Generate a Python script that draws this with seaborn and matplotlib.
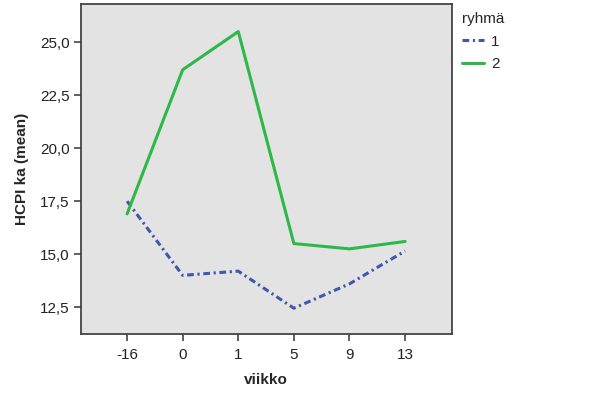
import pandas as pd
import numpy as np
import matplotlib
matplotlib.use("Agg")
import matplotlib.pyplot as plt
import seaborn as sns

# week labels and group means
weeks = ["-16", "0", "1", "5", "9", "13"]
group1 = [17.5, 14.0, 14.2, 12.45, 13.6, 15.15]
group2 = [16.9, 23.7, 25.5, 15.5, 15.25, 15.6]
groups = ["1", "2"]
colors = ["#3e58ac", "#2eb848"]

df = pd.DataFrame({
    "viikko": weeks * 2,
    "HCPI": group1 + group2,
    "ryhmä": [groups[0]] * len(weeks) + [groups[1]] * len(weeks),
})

sns.set_style("white")
plt.rcParams["font.family"] = ["Liberation Sans", "DejaVu Sans"]

fig = plt.figure(figsize=(6.04, 4.03), dpi=100)
ax = fig.add_axes([0.134, 0.171, 0.614, 0.819])
ax.set_facecolor("#e3e3e3")

sns.lineplot(data=df, x="viikko", y="HCPI", hue="ryhmä", style="ryhmä",
             palette=dict(zip(groups, colors)),
             dashes={"1": (2.2, 1.2, 0.7, 1.2), "2": ""},
             linewidth=2.2, ax=ax, sort=False)

ax.set_xlim(-0.83, 5.84)
ax.set_ylim(11.23, 26.8)
ax.set_yticks([12.5, 15.0, 17.5, 20.0, 22.5, 25.0])
ax.set_yticklabels([f"{v:.1f}".replace(".", ",") for v in ax.get_yticks()])

ax.set_xlabel("viikko", fontsize=11, fontweight="bold", labelpad=8)
ax.set_ylabel("HCPI ka (mean)", fontsize=11, fontweight="bold", labelpad=8)
ax.tick_params(axis="both", direction="out", length=5, width=1.2,
               color="#444444", labelsize=11, labelcolor="#222222", pad=3,
               bottom=True, left=True)
ax.tick_params(axis="x", pad=5)
for s in ax.spines.values():
    s.set_color("#444444")
    s.set_linewidth(1.3)

leg = ax.legend(title="ryhmä", loc="upper left", bbox_to_anchor=(0.995, 1.012),
                frameon=False, fontsize=11, title_fontsize=11,
                handlelength=1.4, handletextpad=0.5, labelspacing=0.55,
                alignment="left", borderaxespad=0.4)

fig.savefig("out.png", dpi=100)
